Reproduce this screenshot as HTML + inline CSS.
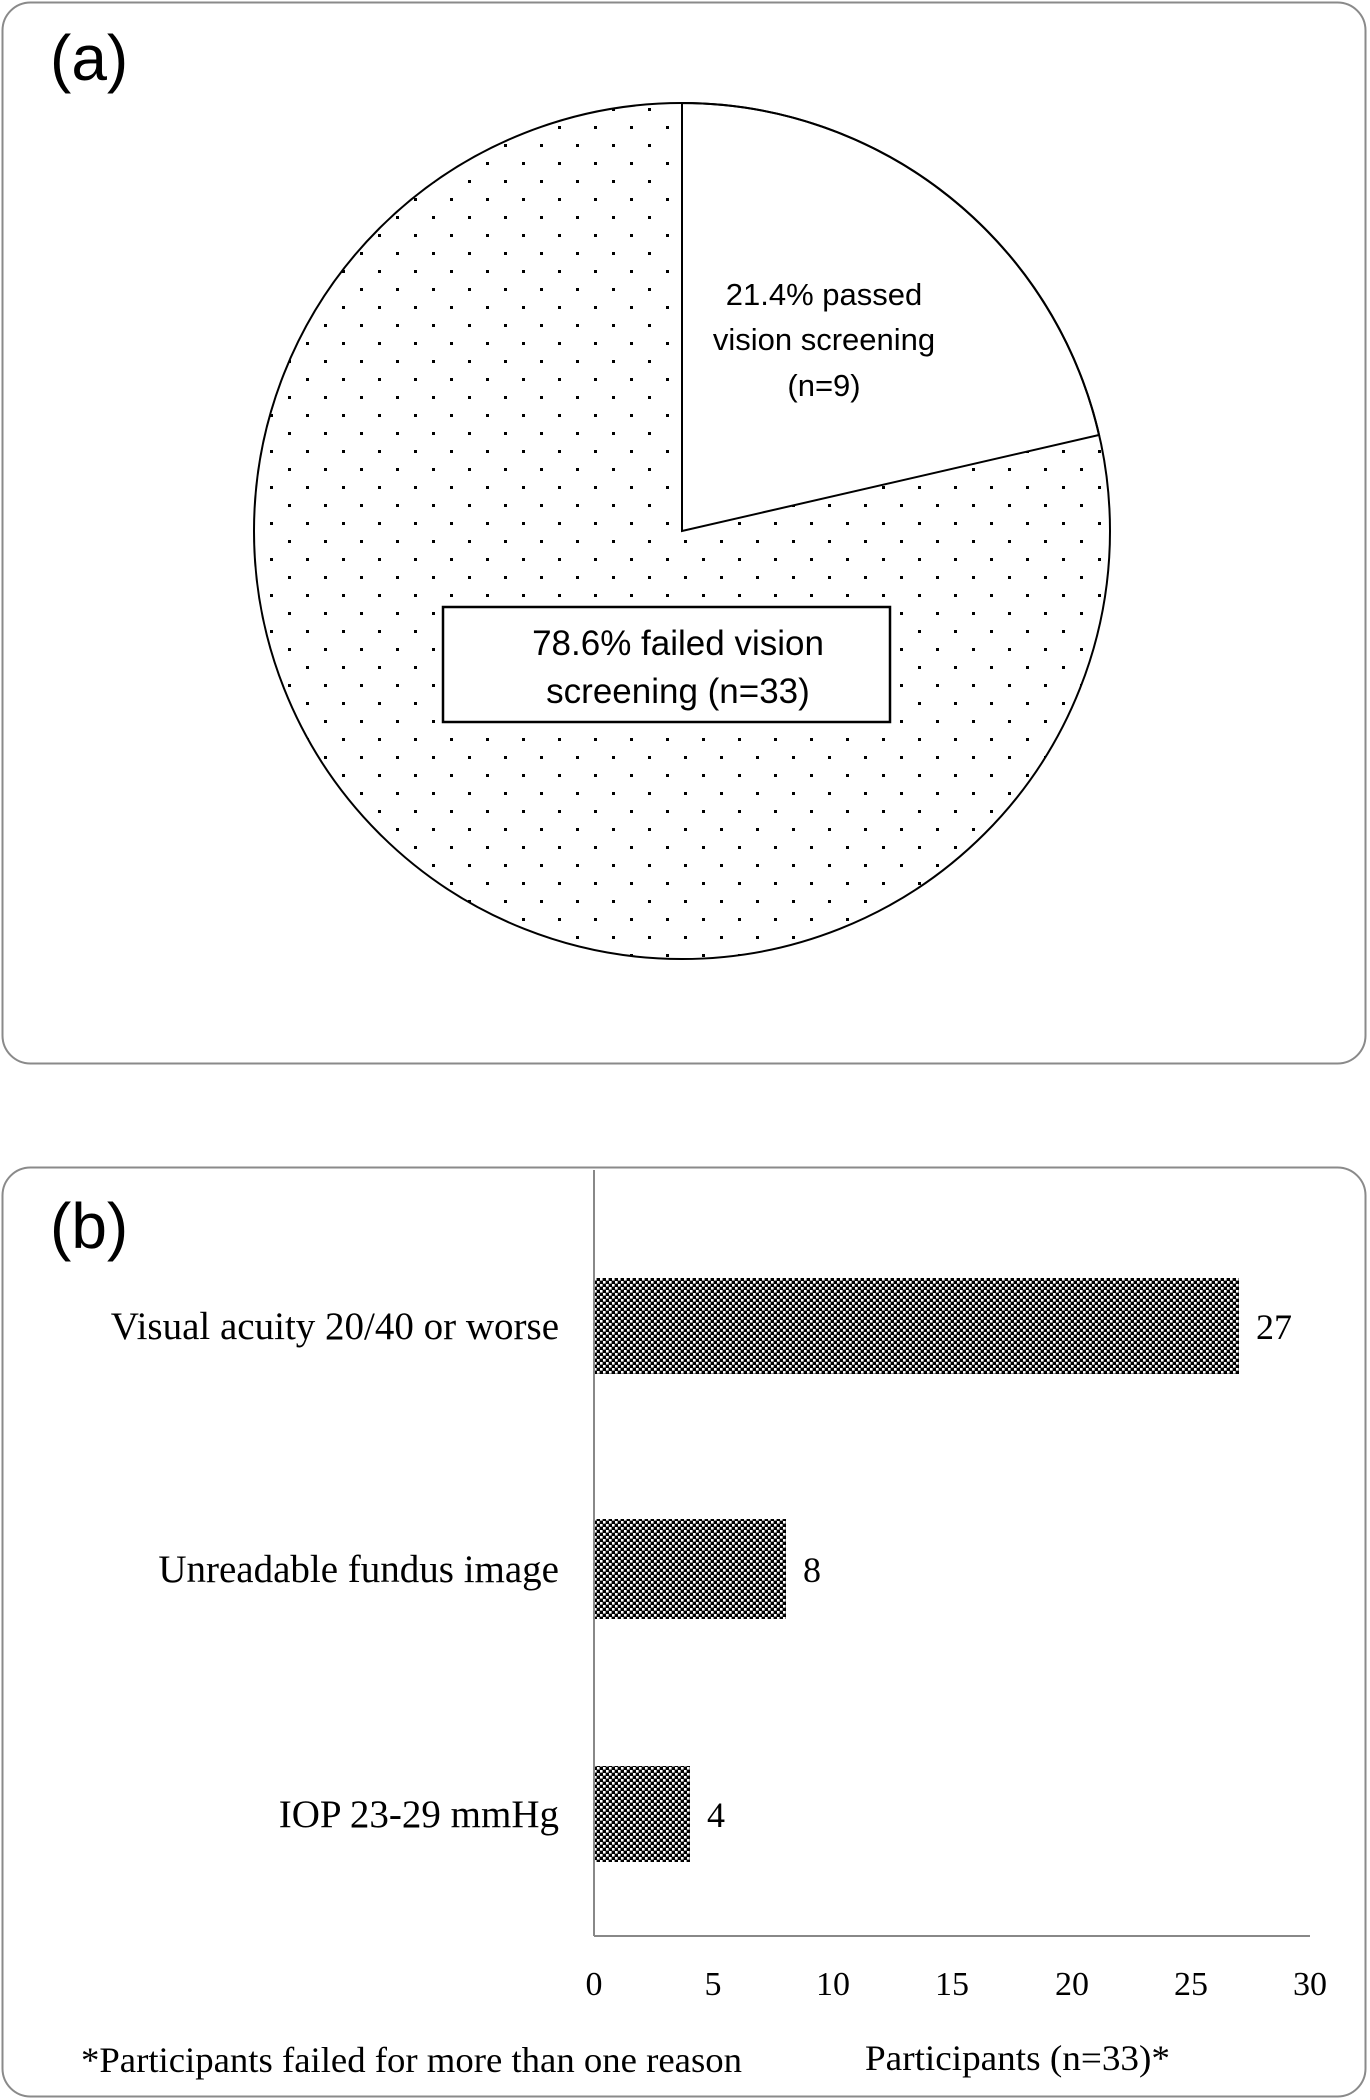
<!DOCTYPE html>
<html><head><meta charset="utf-8"><style>
html,body{margin:0;padding:0;background:#fff;}
svg{display:block;}
</style></head><body>
<svg width="1370" height="2100" viewBox="0 0 1370 2100" xmlns="http://www.w3.org/2000/svg">
<defs>
<pattern id="dots" width="36" height="36" patternUnits="userSpaceOnUse">
<rect x="0" y="0" width="3" height="3" fill="#000"/>
<rect x="18" y="18" width="3" height="3" fill="#000"/>
</pattern>
<pattern id="chk" width="6" height="6" patternUnits="userSpaceOnUse">
<rect width="6" height="6" fill="#000"/>
<rect x="0" y="0" width="2.6" height="2.6" fill="#fff"/>
<rect x="3" y="3" width="2.6" height="2.6" fill="#fff"/>
</pattern>
</defs>
<!-- panel a -->
<rect x="2.5" y="2.5" width="1363" height="1061" rx="28" fill="#fff" stroke="#8a8a8a" stroke-width="2"/>
<text x="50" y="80" font-family="Liberation Sans, sans-serif" font-size="64" fill="#000">(a)</text>
<circle cx="682" cy="531" r="428" fill="#fff"/>
<circle cx="682" cy="531" r="428" fill="url(#dots)"/>
<path d="M682,531 L682,103 A428,428 0 0,1 1099,435 Z" fill="#fff" stroke="#000" stroke-width="2"/>
<circle cx="682" cy="531" r="428" fill="none" stroke="#000" stroke-width="2"/>
<g font-family="Liberation Sans, sans-serif" font-size="31" fill="#000" text-anchor="middle">
<text x="824" y="305">21.4% passed</text>
<text x="824" y="350">vision screening</text>
<text x="824" y="396">(n=9)</text>
</g>
<rect x="443" y="607" width="447" height="115" fill="#fff" stroke="#000" stroke-width="2.5"/>
<g font-family="Liberation Sans, sans-serif" font-size="35" fill="#000" text-anchor="middle">
<text x="678" y="655">78.6% failed vision</text>
<text x="678" y="703">screening (n=33)</text>
</g>
<!-- panel b -->
<rect x="2.5" y="1167.5" width="1363" height="929" rx="28" fill="#fff" stroke="#8a8a8a" stroke-width="2"/>
<text x="50" y="1248" font-family="Liberation Sans, sans-serif" font-size="64" fill="#000">(b)</text>
<line x1="594" y1="1170" x2="594" y2="1936" stroke="#888" stroke-width="2"/>
<line x1="594" y1="1936" x2="1310" y2="1936" stroke="#888" stroke-width="2"/>
<rect x="595" y="1278" width="644" height="96" fill="url(#chk)"/>
<rect x="595" y="1519" width="191" height="100" fill="url(#chk)"/>
<rect x="595" y="1766" width="95" height="96" fill="url(#chk)"/>
<g font-family="Liberation Serif, serif" font-size="39" fill="#000">
<g text-anchor="end">
<text x="559" y="1339">Visual acuity 20/40 or worse</text>
<text x="559" y="1582">Unreadable fundus image</text>
<text x="559" y="1827">IOP 23-29 mmHg</text>
</g>
<text x="1256" y="1339" font-size="36">27</text>
<text x="803" y="1582" font-size="36">8</text>
<text x="707" y="1827" font-size="36">4</text>
<g text-anchor="middle" font-size="34">
<text x="594" y="1995">0</text>
<text x="713" y="1995">5</text>
<text x="833" y="1995">10</text>
<text x="952" y="1995">15</text>
<text x="1072" y="1995">20</text>
<text x="1191" y="1995">25</text>
<text x="1310" y="1995">30</text>
</g>
<text x="81" y="2072" font-size="36" textLength="661" lengthAdjust="spacingAndGlyphs">*Participants failed for more than one reason</text>
<text x="865" y="2070" font-size="36" textLength="305" lengthAdjust="spacingAndGlyphs">Participants (n=33)*</text>
</g>
</svg>
</body></html>
